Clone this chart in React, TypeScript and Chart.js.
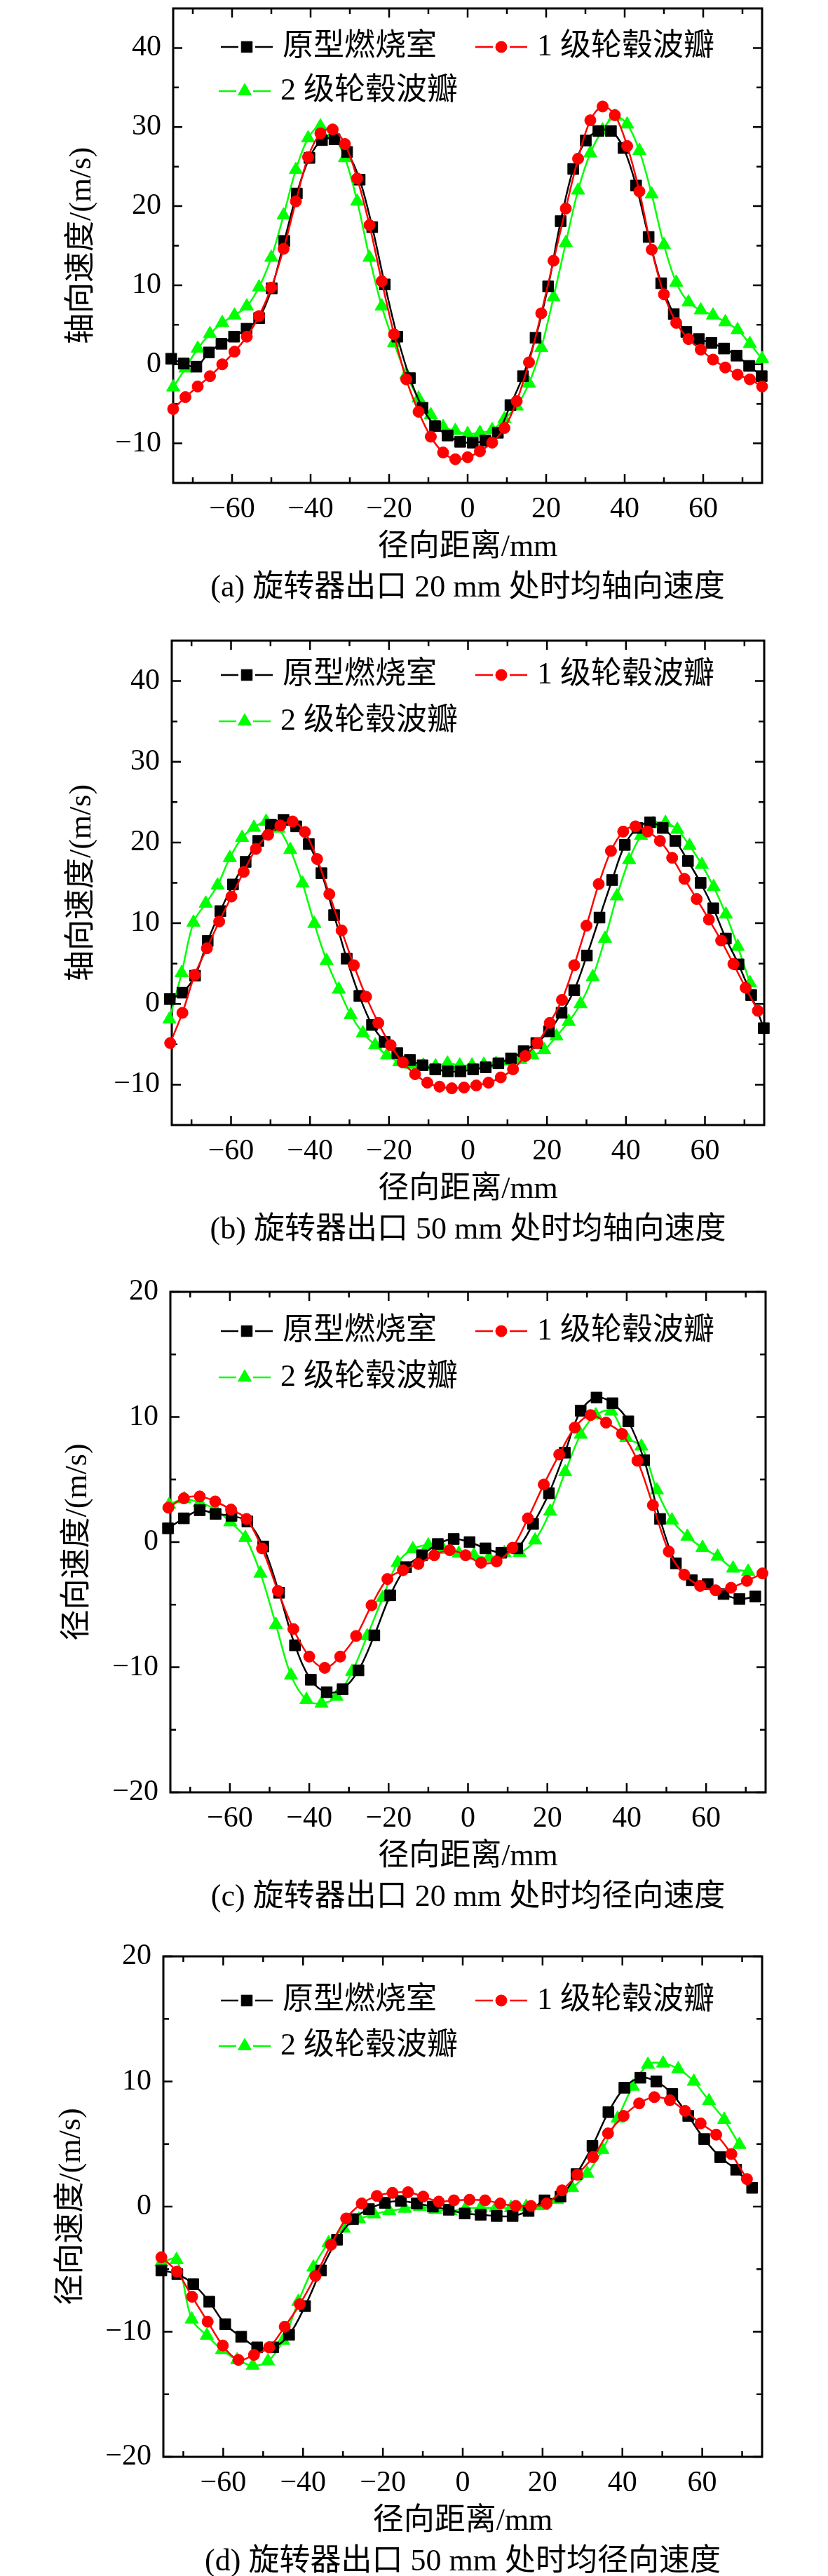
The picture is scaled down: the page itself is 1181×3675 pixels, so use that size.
import React, { useEffect, useRef } from 'react';
import { Chart, registerables } from 'chart.js';
import { drawPoint } from 'chart.js/helpers';

Chart.register(...registerables);

const FONT_FAMILY = "'Liberation Serif', 'Times New Roman', 'Noto Sans CJK SC', serif";

const SERIES_NAMES = ['原型燃烧室', '1 级轮毂波瓣', '2 级轮毂波瓣'];
const X_TITLE = '径向距离/mm';

// tick values
const X_MAJOR = [-60, -40, -20, 0, 20, 40, 60];
const X_MINOR = [-70, -50, -30, -10, 10, 30, 50, 70];
const Y_MAJOR_AXIAL = [-10, 0, 10, 20, 30, 40];
const Y_MINOR_AXIAL = [-5, 5, 15, 25, 35];
const Y_MAJOR_RADIAL = [-20, -10, 0, 10, 20];
const Y_MINOR_RADIAL = [-15, -5, 5, 15];

// radial positions (mm)
const X_A = [-75, -71.88, -68.75, -65.63, -62.5, -59.38, -56.25, -53.13, -50, -46.88, -43.75, -40.63, -37.5, -34.38, -31.25, -28.13, -25, -21.88, -18.75, -15.63, -12.5, -9.38, -6.25, -3.13, 0, 3.13, 6.25, 9.38, 12.5, 15.63, 18.75, 21.88, 25, 28.13, 31.25, 34.38, 37.5, 40.63, 43.75, 46.88, 50, 53.13, 56.25, 59.38, 62.5, 65.63, 68.75, 71.88, 75];
const X_A_BLACK = [-75.5, -72.3, -69.1, -65.9, -62.7, -59.5, -56.3, -53.1, -49.9, -46.7, -43.5, -40.3, -37.1, -33.9, -30.7, -27.5, -24.3, -21.1, -17.9, -14.7, -11.5, -8.3, -5.1, -1.9, 1.3, 4.5, 7.7, 10.9, 14.1, 17.3, 20.5, 23.7, 26.9, 30.1, 33.3, 36.5, 39.7, 42.9, 46.1, 49.3, 52.5, 55.7, 58.9, 62.1, 65.3, 68.5, 71.7, 74.9];
const X_B_RED = [-75.4, -72.3, -69.2, -66.1, -63.0, -59.9, -56.8, -53.7, -50.6, -47.5, -44.4, -41.3, -38.2, -35.1, -32.0, -28.9, -25.8, -22.7, -19.6, -16.5, -13.4, -10.3, -7.2, -4.1, -1.0, 2.1, 5.2, 8.3, 11.4, 14.5, 17.6, 20.7, 23.8, 26.9, 30.0, 33.1, 36.2, 39.3, 42.4, 45.5, 48.6, 51.7, 54.8, 57.9, 61.0, 64.1, 67.2, 70.3, 73.4];
const X_B_GREEN = [-75.6, -72.5, -69.5, -66.4, -63.4, -60.3, -57.2, -54.2, -51.1, -48.0, -45.0, -41.9, -38.9, -35.8, -32.7, -29.7, -26.6, -23.5, -20.5, -17.4, -14.4, -11.3, -8.2, -5.2, -2.1, 1.0, 4.0, 7.1, 10.2, 13.2, 16.3, 19.3, 22.4, 25.5, 28.5, 31.6, 34.7, 37.7, 40.8, 43.8, 46.9, 50.0, 53.0, 56.1, 59.2, 62.2, 65.3, 68.3, 71.4];
const X_C_BLACK = [-75.6, -71.6, -67.6, -63.6, -59.6, -55.6, -51.6, -47.6, -43.6, -39.6, -35.6, -31.6, -27.6, -23.6, -19.6, -15.6, -11.6, -7.6, -3.6, 0.4, 4.4, 8.4, 12.4, 16.4, 20.4, 24.4, 28.4, 32.4, 36.4, 40.4, 44.4, 48.4, 52.4, 56.4, 60.4, 64.4, 68.4, 72.4];
const X_C_RED = [-75.5, -71.6, -67.6, -63.7, -59.7, -55.8, -51.9, -47.9, -44.0, -40.0, -36.1, -32.2, -28.2, -24.3, -20.3, -16.4, -12.5, -8.5, -4.6, -0.6, 3.3, 7.2, 11.2, 15.1, 19.1, 23.0, 26.9, 30.9, 34.8, 38.8, 42.7, 46.6, 50.6, 54.5, 58.5, 62.4, 66.3, 70.3, 74.2];
const X_C_GREEN = [-75.3, -71.5, -67.6, -63.8, -59.9, -56.1, -52.3, -48.4, -44.6, -40.7, -36.9, -33.1, -29.2, -25.4, -21.5, -17.7, -13.9, -10.0, -6.2, -2.3, 1.5, 5.3, 9.2, 13.0, 16.9, 20.7, 24.5, 28.4, 32.2, 36.1, 39.9, 43.7, 47.6, 51.4, 55.3, 59.1, 62.9, 66.8, 70.6];
const X_D_BLACK = [-75.5, -71.5, -67.5, -63.5, -59.5, -55.5, -51.5, -47.5, -43.5, -39.5, -35.5, -31.5, -27.5, -23.5, -19.5, -15.5, -11.5, -7.5, -3.5, 0.5, 4.5, 8.5, 12.5, 16.5, 20.5, 24.5, 28.5, 32.5, 36.5, 40.5, 44.5, 48.5, 52.5, 56.5, 60.5, 64.5, 68.5, 72.5];
const X_D_RED = [-75.5, -71.6, -67.8, -63.9, -60.1, -56.2, -52.3, -48.5, -44.6, -40.8, -36.9, -33.0, -29.2, -25.3, -21.5, -17.6, -13.7, -9.9, -6.0, -2.2, 1.7, 5.6, 9.4, 13.3, 17.1, 21.0, 24.9, 28.7, 32.6, 36.4, 40.3, 44.2, 48.0, 51.9, 55.7, 59.6, 63.5, 67.3, 71.2];
const X_D_GREEN = [-75.5, -71.7, -67.9, -64.1, -60.3, -56.5, -52.6, -48.8, -45.0, -41.2, -37.4, -33.6, -29.8, -26.0, -22.2, -18.4, -14.5, -10.7, -6.9, -3.1, 0.7, 4.5, 8.3, 12.1, 15.9, 19.8, 23.6, 27.4, 31.2, 35.0, 38.8, 42.6, 46.4, 50.2, 54.0, 57.9, 61.7, 65.5, 69.3];

// (a) axial velocity, 20 mm
const A_BLACK = [0.7, 0.1, -0.3, 1.5, 2.6, 3.5, 4.5, 5.85, 9.6, 15.6, 21.6, 26.1, 28.35, 28.45, 26.85, 23.35, 17.35, 10.1, 3.5, -1.75, -5.5, -7.8, -9.0, -9.8, -9.9, -9.65, -8.65, -5.15, -1.5, 3.35, 9.85, 18.1, 24.7, 28.3, 29.5, 29.5, 27.35, 22.6, 16.1, 10.25, 6.35, 4.1, 3.2, 2.7, 2.0, 1.1, -0.2, -1.5];
const A_RED = [-5.65, -4.15, -2.8, -1.5, 0.0, 1.6, 3.5, 6.1, 9.7, 14.6, 20.6, 26.2, 29.2, 29.7, 27.85, 23.5, 17.6, 10.5, 3.8, -1.9, -6.0, -9.15, -11.15, -12.0, -11.75, -11.0, -9.9, -8.05, -4.65, 0.25, 6.45, 13.1, 19.7, 26.0, 30.85, 32.6, 31.5, 27.6, 21.85, 14.5, 8.85, 5.25, 3.2, 1.85, 0.6, -0.4, -1.3, -1.9, -2.8];
const A_GREEN = [-2.9, -0.5, 2.0, 3.85, 5.25, 6.2, 7.35, 9.75, 13.5, 18.85, 24.6, 28.6, 30.1, 29.0, 26.1, 20.6, 13.5, 7.35, 2.7, -1.3, -4.3, -6.4, -7.9, -8.4, -8.8, -8.65, -8.3, -6.9, -5.3, -2.4, 2.1, 8.5, 15.35, 22.0, 26.7, 29.6, 31.35, 30.35, 27.0, 21.5, 15.1, 10.35, 7.85, 6.85, 6.2, 5.35, 4.35, 2.6, 0.7];

// (b) axial velocity, 50 mm
const B_BLACK = [0.6, 1.4, 3.5, 7.8, 11.5, 14.8, 17.6, 20.2, 22.2, 22.8, 22.0, 19.8, 16.2, 11.0, 5.6, 1.0, -2.6, -4.7, -6.1, -6.95, -7.6, -8.1, -8.35, -8.35, -8.1, -7.85, -7.35, -6.75, -5.85, -4.85, -3.4, -1.1, 1.7, 6.0, 10.7, 15.35, 19.7, 21.8, 22.5, 21.8, 20.2, 17.7, 15.0, 11.85, 8.1, 4.9, 1.1, -3.0];
const B_RED = [-4.85, -1.1, 3.6, 6.9, 10.2, 13.3, 16.35, 19.2, 20.95, 22.1, 22.6, 21.3, 17.95, 13.6, 9.1, 4.8, 0.9, -2.35, -5.1, -7.25, -8.7, -9.75, -10.25, -10.45, -10.35, -10.1, -9.75, -9.1, -8.1, -6.45, -4.85, -2.35, 0.5, 4.8, 9.7, 14.85, 18.95, 21.35, 22.0, 21.35, 20.2, 18.1, 15.5, 13.0, 10.45, 7.85, 4.95, 2.0, -0.85];
const B_GREEN = [-1.9, 3.85, 10.1, 12.45, 14.7, 18.1, 20.6, 21.85, 22.6, 21.75, 19.1, 14.95, 9.95, 5.35, 1.8, -1.35, -3.6, -5.1, -6.35, -7.2, -7.5, -7.6, -7.7, -7.35, -7.6, -7.6, -7.5, -7.4, -7.1, -6.9, -6.35, -5.7, -4.0, -2.2, 0.0, 3.35, 8.1, 13.35, 17.85, 20.85, 22.35, 22.45, 21.6, 19.6, 17.25, 14.5, 11.1, 7.1, 2.6];

// (c) radial velocity, 20 mm
const C_BLACK = [1.1, 1.9, 2.55, 2.25, 2.1, 1.65, -0.35, -4.05, -8.25, -11.0, -12.0, -11.75, -10.25, -7.45, -4.25, -2.0, -1.05, -0.15, 0.25, 0.0, -0.5, -0.85, -0.5, 1.45, 3.9, 7.15, 10.5, 11.55, 11.1, 9.65, 6.55, 1.85, -1.7, -3.05, -3.35, -4.15, -4.55, -4.35];
const C_RED = [2.75, 3.5, 3.65, 3.25, 2.6, 1.85, -0.5, -3.9, -6.95, -9.15, -10.05, -9.15, -7.5, -5.05, -2.95, -2.25, -1.75, -1.05, -0.65, -1.05, -1.65, -1.55, -0.45, 1.9, 4.6, 7.0, 9.15, 10.15, 9.55, 8.65, 6.5, 2.95, -0.75, -2.6, -3.5, -3.85, -3.65, -3.1, -2.5];
const C_GREEN = [3.0, 3.45, 3.15, 2.65, 1.6, 0.35, -2.5, -6.6, -10.65, -12.6, -12.9, -12.35, -10.35, -7.5, -4.45, -1.65, -0.55, -0.25, -0.6, -0.9, -1.05, -1.25, -0.85, -0.85, 0.15, 2.45, 5.6, 8.6, 10.15, 10.45, 8.35, 7.65, 4.15, 1.75, 0.45, -0.45, -1.15, -2.1, -2.35];

// (d) radial velocity, 50 mm
const D_BLACK = [-5.1, -5.4, -6.2, -7.6, -9.4, -10.4, -11.25, -11.25, -10.25, -7.95, -5.1, -2.65, -1.0, -0.2, 0.3, 0.45, 0.25, 0.0, -0.25, -0.55, -0.65, -0.75, -0.75, -0.35, 0.5, 0.8, 2.6, 4.85, 7.55, 9.5, 10.3, 10.0, 9.0, 7.25, 5.4, 3.95, 2.95, 1.5];
const D_RED = [-4.05, -5.2, -7.2, -9.2, -11.1, -12.25, -11.85, -11.25, -9.6, -7.8, -5.55, -3.05, -0.95, 0.25, 0.85, 1.1, 1.15, 0.8, 0.4, 0.5, 0.55, 0.5, 0.25, 0.05, 0.05, 0.25, 1.3, 2.55, 3.95, 5.85, 7.25, 8.25, 8.75, 8.5, 7.65, 6.65, 5.75, 4.2, 2.2];
const D_GREEN = [-4.45, -4.25, -9.0, -10.3, -11.45, -12.25, -12.7, -12.35, -10.7, -7.6, -4.85, -2.9, -1.75, -1.0, -0.6, -0.35, -0.15, 0.0, -0.25, -0.35, -0.15, -0.1, -0.1, -0.1, 0.0, 0.05, 0.55, 1.5, 2.65, 4.55, 7.05, 9.6, 11.35, 11.45, 11.0, 10.0, 8.45, 6.95, 4.95];

// black squares, red circles, green triangles; red drawn on top
const STYLES = [
    { color: '#000000', pointStyle: 'rect', radius: 11, order: 1 },
    { color: '#ff0000', pointStyle: 'circle', radius: 8, order: 0 },
    { color: '#00ff00', pointStyle: 'triangle', radius: 11, order: 2 },
];

// legend slots: absolute x of the line sample, row index
const LEGEND_SLOTS = [
    { x: 315, row: 0 },
    { x: 678, row: 0 },
    { x: 312, row: 1 },
];

const X_AXIS_H = 120;
const CAPTION_H = 52;

const PANELS = [
    {
        frame: { left: 247, right: 1087, top: 2, bottom: 689 },
        yMin: -15, yMax: 45, yMajor: Y_MAJOR_AXIAL, yMinor: Y_MINOR_AXIAL,
        yTitle: '轴向速度/(m/s)', yTitleX: 117, legendRows: [55, 118],
        caption: '(a) 旋转器出口 20 mm 处时均轴向速度',
        series: [[X_A_BLACK, A_BLACK], [X_A, A_RED], [X_A, A_GREEN]],
    },
    {
        frame: { left: 245, right: 1090, top: 914, bottom: 1605 },
        yMin: -15, yMax: 45, yMajor: Y_MAJOR_AXIAL, yMinor: Y_MINOR_AXIAL,
        yTitle: '轴向速度/(m/s)', yTitleX: 117, legendRows: [49, 115],
        caption: '(b) 旋转器出口 50 mm 处时均轴向速度',
        series: [[X_A_BLACK, B_BLACK], [X_B_RED, B_RED], [X_B_GREEN, B_GREEN]],
    },
    {
        frame: { left: 243, right: 1092, top: 1843, bottom: 2557 },
        yMin: -20, yMax: 20, yMajor: Y_MAJOR_RADIAL, yMinor: Y_MINOR_RADIAL,
        yTitle: '径向速度/(m/s)', yTitleX: 111, legendRows: [56, 122],
        caption: '(c) 旋转器出口 20 mm 处时均径向速度',
        series: [[X_C_BLACK, C_BLACK], [X_C_RED, C_RED], [X_C_GREEN, C_GREEN]],
    },
    {
        frame: { left: 233, right: 1087, top: 2791, bottom: 3505 },
        yMin: -20, yMax: 20, yMajor: Y_MAJOR_RADIAL, yMinor: Y_MINOR_RADIAL,
        yTitle: '径向速度/(m/s)', yTitleX: 102, legendRows: [63, 128],
        caption: '(d) 旋转器出口 50 mm 处时均径向速度',
        series: [[X_D_BLACK, D_BLACK], [X_D_RED, D_RED], [X_D_GREEN, D_GREEN]],
    },
];

const fmt = (v: number) => (v < 0 ? '\u2212' + Math.abs(v) : String(v));

// box round the plot with inward ticks on all four sides
const frameTicks = {
    id: 'frameTicks',
    beforeDatasetsDraw(chart: any) {
        const { ctx, chartArea } = chart;
        const { left, right, top, bottom } = chartArea;
        const xs = chart.scales.x;
        const ys = chart.scales.y;
        ctx.save();
        ctx.strokeStyle = '#000';
        ctx.lineWidth = 2.5;
        ctx.beginPath();
        xs.ticks.forEach((t: any) => {
            const px = xs.getPixelForValue(t.value);
            const len = t.label ? 13 : 8;
            ctx.moveTo(px, bottom);
            ctx.lineTo(px, bottom - len);
            ctx.moveTo(px, top);
            ctx.lineTo(px, top + len);
        });
        ys.ticks.forEach((t: any) => {
            const py = ys.getPixelForValue(t.value);
            const len = t.label ? 13 : 8;
            ctx.moveTo(left, py);
            ctx.lineTo(left + len, py);
            ctx.moveTo(right, py);
            ctx.lineTo(right - len, py);
        });
        ctx.stroke();
        ctx.lineWidth = 3;
        ctx.strokeRect(left, top, right - left, bottom - top);
        ctx.restore();
    },
};

// line + symbol legend inside the plot
const insideLegend = {
    id: 'insideLegend',
    afterDatasetsDraw(chart: any, _args: any, opts: any) {
        const { ctx, chartArea } = chart;
        ctx.save();
        ctx.font = `44px ${FONT_FAMILY}`;
        ctx.textBaseline = 'middle';
        chart.data.datasets.forEach((ds: any, i: number) => {
            const slot = LEGEND_SLOTS[i];
            const y = chartArea.top + opts.rows[slot.row];
            ctx.strokeStyle = ds.borderColor;
            ctx.fillStyle = ds.backgroundColor;
            ctx.lineWidth = 2.5;
            ctx.beginPath();
            ctx.moveTo(slot.x, y);
            ctx.lineTo(slot.x + 25, y);
            ctx.moveTo(slot.x + 49, y);
            ctx.lineTo(slot.x + 74, y);
            ctx.stroke();
            ctx.lineWidth = 1;
            drawPoint(ctx, { pointStyle: ds.pointStyle, radius: ds.pointRadius, rotation: 0, borderWidth: 1 }, slot.x + 37, y);
            ctx.fillStyle = '#000';
            ctx.fillText(ds.label, slot.x + 88, y);
        });
        ctx.restore();
    },
};

type PanelDef = typeof PANELS[number];

const PanelChart = ({ panel }: { panel: PanelDef }) => {
    const canvasRef = useRef<HTMLCanvasElement>(null);
    const { frame } = panel;
    const canvasTop = Math.max(0, frame.top - 30);
    const padTop = frame.top - canvasTop;
    const height = padTop + (frame.bottom - frame.top) + X_AXIS_H + CAPTION_H;

    useEffect(() => {
        if (!canvasRef.current) return;
        const xTicks = [...X_MAJOR, ...X_MINOR].sort((a, b) => a - b);
        const yTicks = [...panel.yMajor, ...panel.yMinor].sort((a, b) => a - b);
        const tickFont = { family: FONT_FAMILY, size: 42, lineHeight: 1 };
        const titleFont = { family: FONT_FAMILY, size: 44, lineHeight: 1, weight: 'normal' as const };

        const chart = new Chart(canvasRef.current, {
            type: 'line',
            data: {
                datasets: panel.series.map(([xs, ys], i) => ({
                    label: SERIES_NAMES[i],
                    data: ys.map((v, k) => ({ x: xs[k], y: v })),
                    order: STYLES[i].order,
                    borderColor: STYLES[i].color,
                    backgroundColor: STYLES[i].color,
                    borderWidth: 2.5,
                    pointStyle: STYLES[i].pointStyle as any,
                    pointRadius: STYLES[i].radius,
                    pointBorderWidth: 1,
                    pointBorderColor: STYLES[i].color,
                    pointBackgroundColor: STYLES[i].color,
                    tension: 0.35,
                    clip: false as any,
                })),
            },
            options: {
                animation: false,
                responsive: false,
                devicePixelRatio: 1,
                events: [],
                layout: { padding: { top: padTop, right: 1181 - frame.right, left: 0, bottom: 0 } },
                scales: {
                    x: {
                        type: 'linear',
                        min: -75,
                        max: 75,
                        afterBuildTicks: (s: any) => { s.ticks = xTicks.map((v) => ({ value: v })); },
                        afterFit: (s: any) => { s.height = X_AXIS_H; s.paddingLeft = 0; s.paddingRight = 0; },
                        grid: { display: false, drawTicks: false },
                        border: { display: false },
                        ticks: {
                            autoSkip: false, maxRotation: 0, minRotation: 0, padding: 17, color: '#000', font: tickFont,
                            callback: (v: any) => (X_MAJOR.includes(Number(v)) ? fmt(Number(v)) : ''),
                        },
                        title: { display: true, text: X_TITLE, color: '#000', font: titleFont, padding: { top: 0, bottom: 6 } },
                    },
                    y: {
                        type: 'linear',
                        min: panel.yMin,
                        max: panel.yMax,
                        afterBuildTicks: (s: any) => { s.ticks = yTicks.map((v) => ({ value: v })); },
                        afterFit: (s: any) => { s.width = frame.left; s.paddingTop = 0; s.paddingBottom = 0; },
                        grid: { display: false, drawTicks: false },
                        border: { display: false },
                        ticks: {
                            autoSkip: false, padding: 17, color: '#000', font: tickFont,
                            callback: (v: any) => (panel.yMajor.includes(Number(v)) ? fmt(Number(v)) : ''),
                        },
                        title: { display: true, text: panel.yTitle, color: '#000', font: titleFont, padding: { top: panel.yTitleX - 22, bottom: 0 } },
                    },
                },
                plugins: {
                    legend: { display: false },
                    tooltip: { enabled: false },
                    title: {
                        display: true, position: 'bottom', fullSize: false, text: panel.caption, color: '#000',
                        font: titleFont, padding: { top: 8, bottom: 0 },
                    },
                    insideLegend: { rows: panel.legendRows },
                } as any,
            },
            plugins: [frameTicks, insideLegend],
        });

        return () => {
            chart.destroy();
        };
    }, []);

    return (
        <canvas
            ref={canvasRef}
            width={1181}
            height={height}
            style={{ position: 'absolute', left: 0, top: canvasTop, width: 1181, height }}
        />
    );
};

export default function App() {
    return (
        <div style={{ position: 'absolute', left: 0, top: 0, width: 1181, height: 3675, overflow: 'hidden', background: '#fff' }}>
            {PANELS.map((p, i) => (
                <PanelChart key={i} panel={p} />
            ))}
        </div>
    );
}
